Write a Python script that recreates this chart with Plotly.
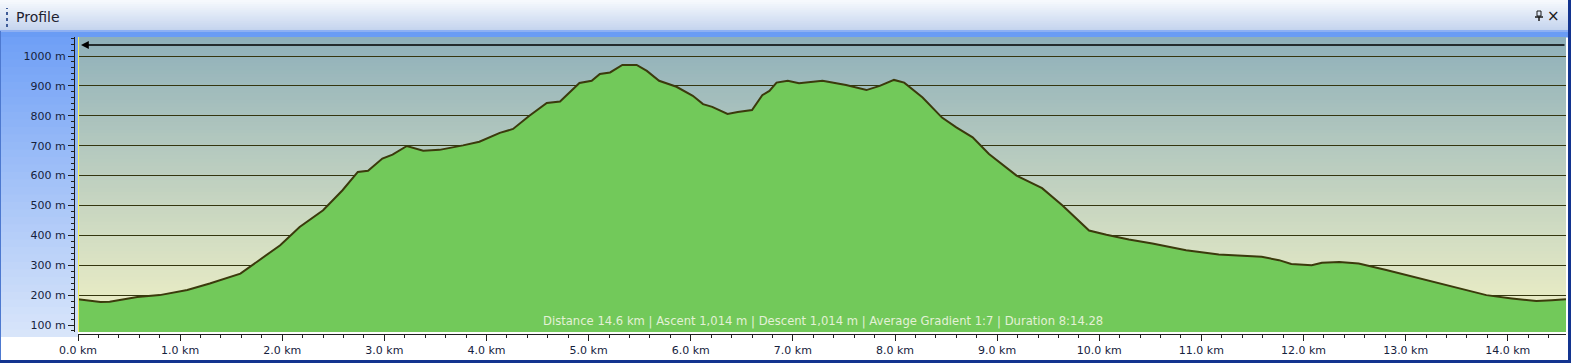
import plotly.graph_objects as go

# ---- data ----
distance_km = [0.00, 0.22, 0.31, 0.58, 0.80, 1.07, 1.29, 1.59, 1.75, 1.98, 2.17, 2.40, 2.59, 2.74, 2.84,
               2.98, 3.08, 3.22, 3.38, 3.54, 3.77, 3.93, 4.13, 4.26, 4.42, 4.59, 4.72, 4.91, 5.03, 5.11,
               5.21, 5.33, 5.47, 5.57, 5.69, 5.86, 6.02, 6.12, 6.21, 6.36, 6.46, 6.60, 6.70, 6.77, 6.84,
               6.95, 7.06, 7.29, 7.52, 7.72, 7.85, 7.99, 8.09, 8.27, 8.46, 8.60, 8.76, 8.92, 9.19, 9.44,
               9.64, 9.90, 10.07, 10.29, 10.52, 10.85, 11.17, 11.59, 11.76, 11.88, 12.08, 12.18, 12.35,
               12.54, 12.81, 13.13, 13.45, 13.79, 14.04, 14.28, 14.43, 14.57]
elevation_m = [186, 177, 178, 194, 200, 217, 239, 272, 311, 367, 428, 484, 551, 612, 616,
               657, 670, 699, 683, 686, 701, 713, 743, 756, 800, 843, 848, 910, 917, 940,
               945, 970, 970, 950, 917, 897, 867, 839, 830, 806, 813, 819, 869, 883, 911,
               917, 909, 917, 903, 886, 900, 920, 911, 861, 794, 761, 728, 672, 600, 558,
               500, 416, 402, 386, 373, 350, 336, 328, 317, 304, 300, 308, 311, 306, 284,
               256, 228, 200, 189, 180, 183, 186]
x_ticks_km = list(range(0, 15))
x_tick_labels = [f"{v:.1f} km" for v in x_ticks_km]
y_ticks_m = list(range(100, 1001, 100))
y_tick_labels = [f"{v} m" for v in y_ticks_m]
window_title = "Profile"
summary_text = "Distance 14.6 km | Ascent 1,014 m | Descent 1,014 m | Average Gradient 1:7 | Duration 8:14.28"

W, H = 1571, 363
def px(x):
    return x / W
def py(y):
    return (H - y) / H

PLOT_L, PLOT_R, PLOT_T, PLOT_B = 78, 1566, 37, 332

def lerp(c1, c2, t):
    return "rgb(%d,%d,%d)" % tuple(round(a + (b - a) * t) for a, b in zip(c1, c2))

shapes = []
# title bar gradient
n = 16
for i in range(n):
    y0 = 31 * i / n
    y1 = 31 * (i + 1) / n + 0.8
    shapes.append(dict(type="rect", xref="paper", yref="paper", x0=0, x1=1, y0=py(y1), y1=py(y0),
                       fillcolor=lerp((246, 249, 253), (196, 212, 238), i / (n - 1)), line_width=0, layer="below"))
# blue band under the title bar
shapes.append(dict(type="rect", xref="paper", yref="paper", x0=0, x1=1, y0=py(32), y1=py(30),
                   fillcolor="#8eb0f2", line_width=0, layer="below"))
shapes.append(dict(type="rect", xref="paper", yref="paper", x0=0, x1=1, y0=py(37.5), y1=py(32),
                   fillcolor="#6a9cf4", line_width=0, layer="below"))
# left axis area gradient
n = 40
for i in range(n):
    y0 = 37 + (337 - 37) * i / n
    y1 = 37 + (337 - 37) * (i + 1) / n + (0.8 if i < n - 1 else 0)
    shapes.append(dict(type="rect", xref="paper", yref="paper", x0=0, x1=px(PLOT_L), y0=py(y1), y1=py(y0),
                       fillcolor=lerp((112, 160, 246), (216, 229, 250), i / (n - 1)), line_width=0, layer="below"))
# plot background gradient
n = 80
for i in range(n):
    y0 = PLOT_T + (PLOT_B - PLOT_T) * i / n
    y1 = PLOT_T + (PLOT_B - PLOT_T) * (i + 1) / n + (0.8 if i < n - 1 else 0)
    shapes.append(dict(type="rect", xref="paper", yref="paper", x0=px(PLOT_L), x1=px(PLOT_R), y0=py(y1), y1=py(y0),
                       fillcolor=lerp((143, 176, 186), (242, 242, 198), i / (n - 1)), line_width=0, layer="below"))
# yellow left edge of the plot
shapes.append(dict(type="line", xref="paper", yref="paper", x0=px(PLOT_L + 0.5), x1=px(PLOT_L + 0.5),
                   y0=py(PLOT_B), y1=py(PLOT_T), line=dict(color="#f2ef5a", width=1), layer="above"))
# window frame
shapes.append(dict(type="rect", xref="paper", yref="paper", x0=px(1568), x1=1, y0=0, y1=1,
                   fillcolor="#13348f", line_width=0, layer="above"))
shapes.append(dict(type="rect", xref="paper", yref="paper", x0=0, x1=1, y0=0, y1=py(360),
                   fillcolor="#13348f", line_width=0, layer="above"))
shapes.append(dict(type="rect", xref="paper", yref="paper", x0=0, x1=px(1), y0=py(360), y1=py(31),
                   fillcolor="#4d79d0", line_width=0, layer="above"))
# grip dots
shapes.append(dict(type="line", xref="paper", yref="paper", x0=px(7), x1=px(7), y0=py(27), y1=py(8),
                   line=dict(color="#3f5c98", width=2, dash="dot"), layer="above"))
# pin icon
shapes.append(dict(type="rect", xref="paper", yref="paper", x0=px(1537), x1=px(1541), y0=py(16), y1=py(11),
                   line=dict(color="#1a1a1a", width=1), fillcolor="rgba(0,0,0,0)", layer="above"))
shapes.append(dict(type="line", xref="paper", yref="paper", x0=px(1535), x1=px(1543), y0=py(17), y1=py(17),
                   line=dict(color="#1a1a1a", width=1.5), layer="above"))
shapes.append(dict(type="line", xref="paper", yref="paper", x0=px(1539), x1=px(1539), y0=py(21), y1=py(17),
                   line=dict(color="#1a1a1a", width=1.5), layer="above"))

fig = go.Figure()
fig.add_trace(go.Scatter(
    x=distance_km, y=elevation_m, mode="lines", fill="tozeroy",
    fillcolor="#72c95a", line=dict(color="#3b3a0c", width=2), hoverinfo="skip", showlegend=False,
))

axis_color = "#1f1f1f"
tick_font = dict(family="DejaVu Sans", size=11, color="#16223d")
fig.update_layout(
    width=W, height=H,
    margin=dict(l=0, r=0, t=0, b=0, autoexpand=False),
    paper_bgcolor="#ffffff",
    plot_bgcolor="rgba(0,0,0,0)",
    showlegend=False,
    shapes=shapes,
    xaxis=dict(
        domain=[px(PLOT_L), px(PLOT_R)], range=[0, 14.57], anchor="free", position=py(334),
        tickmode="array", tickvals=x_ticks_km, ticktext=x_tick_labels,
        ticks="outside", ticklen=6, tickcolor=axis_color, tickwidth=1,
        showline=True, linecolor=axis_color, linewidth=1, showgrid=False, zeroline=False,
        minor=dict(dtick=0.2, tick0=0, ticks="outside", ticklen=3, tickcolor=axis_color, showgrid=False),
        tickfont=tick_font, fixedrange=True, automargin=False,
    ),
    yaxis=dict(
        domain=[py(PLOT_B), py(PLOT_T)], range=[76.6, 1063.6], anchor="free", position=px(74),
        tickmode="array", tickvals=y_ticks_m, ticktext=y_tick_labels,
        ticks="outside", ticklen=6, tickcolor=axis_color, tickwidth=1,
        showline=True, linecolor=axis_color, linewidth=1,
        showgrid=True, gridcolor="#34350f", gridwidth=1, zeroline=False,
        minor=dict(dtick=20, tick0=0, ticks="outside", ticklen=3, tickcolor=axis_color, showgrid=False),
        tickfont=tick_font, fixedrange=True, automargin=False,
    ),
    annotations=[
        dict(xref="paper", yref="paper", x=px(14), y=py(17), xanchor="left", yanchor="middle",
             text=window_title, showarrow=False, font=dict(family="DejaVu Sans", size=14, color="#1e2230")),
        dict(xref="paper", yref="paper", x=px(1553), y=py(16), xanchor="center", yanchor="middle",
             text="×", showarrow=False, font=dict(family="DejaVu Sans", size=15, color="#1a1a1a")),
        dict(xref="paper", yref="paper", x=px(822.5), y=py(321), xanchor="center", yanchor="middle",
             text=summary_text, showarrow=False, font=dict(family="DejaVu Sans", size=11.6, color="#e3f1d6")),
        dict(xref="paper", yref="paper", x=px(81), y=py(45), text="", showarrow=True,
             ax=1485, ay=0, axref="pixel", ayref="pixel", arrowhead=2, arrowsize=1.2, arrowwidth=1.3,
             arrowcolor="#000000", standoff=0),
    ],
)

fig.write_html("out.html", config={"displayModeBar": False},
               post_script="document.body.style.margin='0';document.body.style.overflow='hidden';")
